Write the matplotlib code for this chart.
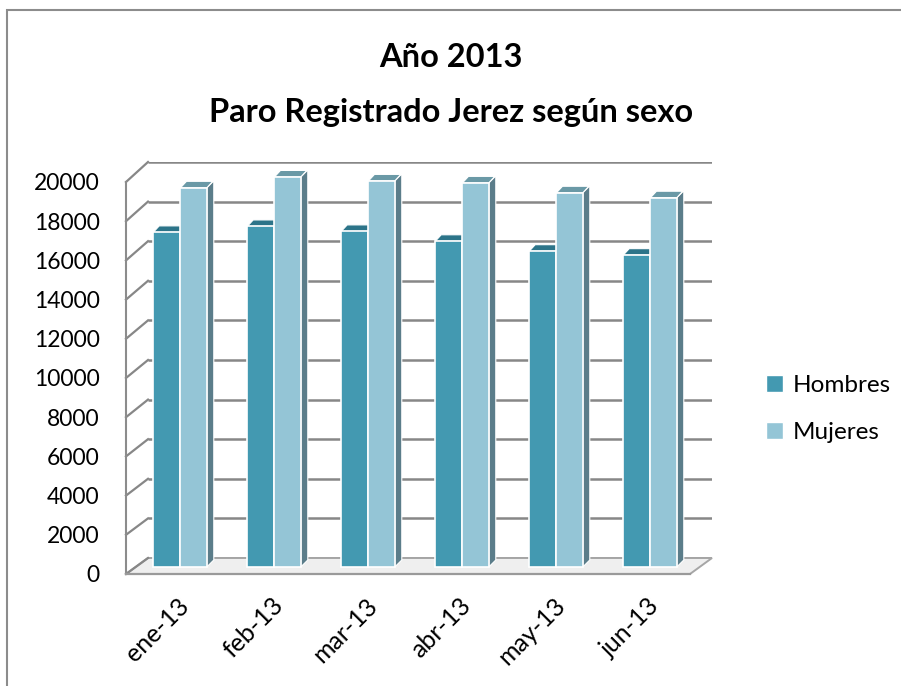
import numpy as np
import matplotlib
matplotlib.use("Agg")
import matplotlib.pyplot as plt
from matplotlib.patches import Polygon, Patch, Rectangle
from matplotlib.lines import Line2D
from matplotlib.transforms import IdentityTransform, ScaledTranslation

# ---------------- data ----------------
categories = ["ene-13", "feb-13", "mar-13", "abr-13", "may-13", "jun-13"]
hombres = [16900, 17200, 16950, 16450, 15950, 15750]
mujeres = [19150, 19700, 19500, 19400, 18900, 18650]
series_names = ["Hombres", "Mujeres"]
y_ticks = [0, 2000, 4000, 6000, 8000, 10000, 12000, 14000, 16000, 18000, 20000]
title_line1 = "Año 2013"
title_line2 = "Paro Registrado Jerez según sexo"

# ---------------- style ----------------
FONT = "Lato"
plt.rcParams["font.family"] = [FONT, "DejaVu Sans"]
W, H = 901, 686
c_h_front, c_h_top, c_h_side = "#4399b1", "#2c7489", "#2f6e80"
c_m_front, c_m_top, c_m_side = "#94c5d6", "#6a99a6", "#5b7d8a"
grid_c = "#878787"
wall_c = "#8c8c8c"

fig = plt.figure(figsize=(W / 100, H / 100), dpi=100)
fig.patch.set_facecolor("white")

def px_axes(x0, y_top, x1, y_bot):
    return fig.add_axes([x0 / W, 1 - y_bot / H, (x1 - x0) / W, (y_bot - y_top) / H])

n = len(categories)
xlim = (-0.5, n - 0.5)
ylim = (0, y_ticks[-1])

# back wall
ax = px_axes(148, 162, 712, 558)
# front plane (labels, floor edge)
ax_f = px_axes(126, 182, 690, 574)
# bar plane
ax_b = px_axes(133, 171, 697, 567)

for a, z in ((ax, 0), (ax_f, 1), (ax_b, 2)):
    a.set_xlim(*xlim)
    a.set_ylim(*ylim)
    a.set_facecolor("none")
    a.set_zorder(z)
    for s in a.spines.values():
        s.set_visible(False)
    a.tick_params(length=0)

ax.set_xticks([]); ax.set_yticks([])
ax_b.set_xticks([]); ax_b.set_yticks([])

# gridlines on back wall
ax.hlines(y_ticks, xlim[0], xlim[1], colors=grid_c, linewidth=1.8, zorder=1)

# front plane: axis edges + labels
ax_f.spines["left"].set_visible(True)
ax_f.spines["left"].set_color(wall_c)
ax_f.spines["left"].set_linewidth(1.5)
ax_f.spines["bottom"].set_visible(True)
ax_f.spines["bottom"].set_color("#9a9a9a")
ax_f.spines["bottom"].set_linewidth(1.6)
ax_f.set_yticks(y_ticks)
ax_f.set_yticklabels([str(v) for v in y_ticks], fontsize=16.5)
ax_f.tick_params(axis="y", pad=19)
ax_f.set_xticks(np.arange(n))
ax_f.set_xticklabels(categories, fontsize=18, rotation=45, ha="right", va="center",
                     rotation_mode="anchor")
ax_f.tick_params(axis="x", pad=20)
for lab in ax_f.get_xticklabels():
    lab.set_transform(lab.get_transform() + ScaledTranslation(9 / 72, 0, fig.dpi_scale_trans))

# left wall + floor in display coords
def D(a, x, y):
    return a.transData.transform((x, y))

bl, br = D(ax, xlim[0], 0), D(ax, xlim[1], 0)
fl, fr = D(ax_f, xlim[0], 0), D(ax_f, xlim[1], 0)

floor = Polygon([bl, br, fr, fl], closed=True, transform=IdentityTransform(),
                facecolor="#efefef", edgecolor="#a6a6a6", linewidth=1.4, zorder=1, clip_on=False)
ax_f.add_patch(floor)
for v in y_ticks:
    p1, p2 = D(ax, xlim[0], v), D(ax_f, xlim[0], v)
    ax_f.add_line(Line2D([p1[0], p2[0]], [p1[1], p2[1]], transform=IdentityTransform(),
                         color=grid_c, linewidth=1.6, zorder=1.5, clip_on=False))

# bars with pseudo-3D faces
axw = 564.0
axh = 396.0
ux = (xlim[1] - xlim[0]) / axw
uy = (ylim[1] - ylim[0]) / axh
bw = 0.28
off = 0.145
dxt, dyt = 6 * ux, 6.5 * uy
dxs, dys = 7 * ux, 7 * uy

def draw_series(vals, shift, c_front, c_top, c_side, z):
    xs = np.arange(n) + shift
    for x, v in zip(xs, vals):
        x0, x1 = x - bw / 2, x + bw / 2
        side = Polygon([(x1, 0), (x1 + dxs, dys), (x1 + dxs, v + dys), (x1, v)], closed=True,
                       facecolor=c_side, edgecolor="white", linewidth=0.8, zorder=z, clip_on=False)
        top = Polygon([(x0, v), (x1, v), (x1 + dxt, v + dyt), (x0 + dxt, v + dyt)], closed=True,
                      facecolor=c_top, edgecolor="white", linewidth=0.8, zorder=z, clip_on=False)
        ax_b.add_patch(side)
        ax_b.add_patch(top)
    ax_b.bar(xs, vals, bw, color=c_front, edgecolor="white", linewidth=1.2, zorder=z + 0.1,
             clip_on=False)

draw_series(hombres, -off, c_h_front, c_h_top, c_h_side, 2)
draw_series(mujeres, off, c_m_front, c_m_top, c_m_side, 3)

# title
fig.text(451 / W, 1 - 66.7 / H, title_line1, ha="center", va="baseline",
         fontsize=23.5, fontweight="bold")
fig.text(451 / W, 1 - 121.7 / H, title_line2, ha="center", va="baseline",
         fontsize=23.5, fontweight="bold")

# legend
handles = [Patch(facecolor=c_h_front, edgecolor="white"), Patch(facecolor=c_m_front, edgecolor="white")]
fig.legend(handles, series_names, loc="center left", bbox_to_anchor=(756 / W, 1 - 409 / H),
           frameon=False, fontsize=17.5, handlelength=0.7, handleheight=0.7,
           handletextpad=0.4, labelspacing=1.05, borderaxespad=0)

# outer border
fig.add_artist(Rectangle((7 / W, -0.05), 1.1, 1 - 10 / H + 0.05, transform=fig.transFigure,
                         fill=False, edgecolor="#8c8c8c", linewidth=1.5, clip_on=False))

fig.savefig("out.png", dpi=100)
